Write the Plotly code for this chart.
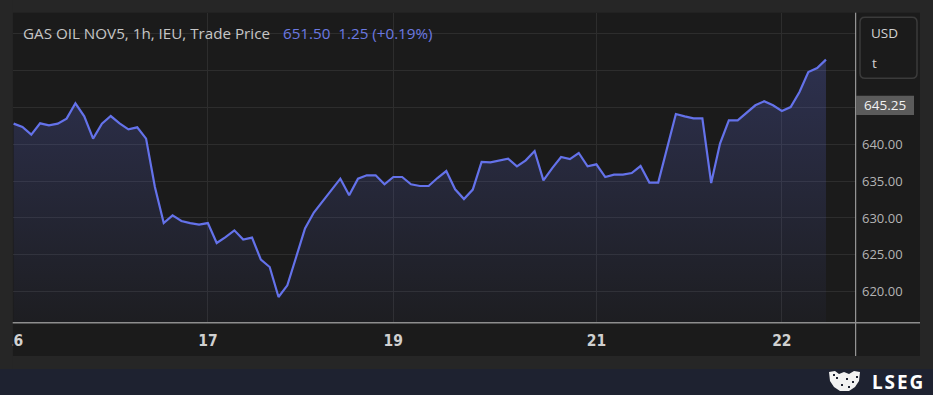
import plotly.graph_objects as go

# ---------------- data ----------------
price = [
    642.81, 642.35, 641.32, 642.85, 642.58, 642.81, 643.49, 645.57, 643.80, 640.77,
    642.81, 643.84, 642.85, 642.04, 642.31, 640.77, 634.20, 629.31, 630.36, 629.59,
    629.31, 629.10, 629.31, 626.60, 627.41, 628.32, 627.06, 627.33, 624.34, 623.34,
    619.27, 620.86, 624.70, 628.59, 630.74, 632.30, 633.85, 635.34, 633.08, 635.34,
    635.79, 635.79, 634.57, 635.56, 635.56, 634.57, 634.34, 634.34, 635.42, 636.37,
    633.89, 632.57, 633.85, 637.60, 637.56, 637.83, 638.06, 637.01, 637.83, 639.09,
    635.11, 636.78, 638.28, 638.00, 638.82, 637.01, 637.28, 635.56, 635.89, 635.89,
    636.10, 637.05, 634.80, 634.80, 639.50, 644.11, 643.80, 643.53, 643.53, 634.75,
    640.10, 643.26, 643.26, 644.30, 645.30, 645.84, 645.30, 644.52, 645.06, 647.10,
    649.82, 650.36, 651.50,
]
hour_index = list(range(len(price)))

day_tick_index = [0, 22, 43, 66, 87]
day_tick_labels = ["16", "17", "19", "21", "22"]

price_ticks = [620, 625, 630, 635, 640, 645, 650, 655]
labelled_price_ticks = [620, 625, 630, 635, 640]   # the others sit under the boxes

title_text = "GAS OIL NOV5, 1h, IEU, Trade Price"
quote_text = "651.50&nbsp;&nbsp;1.25 (+0.19%)"
marker_label = "645.25"
unit_top = "USD"
unit_bottom = "t"
brand = "LSEG"

# ---------------- layout helpers ----------------
W, H = 933, 395
L, R, T, B = 13, 77, 13, 72
PW, PH = W - L - R, H - T - B


def px(x):
    return (x - L) / PW


def py(y):
    return (H - B - y) / PH


Y_LO, Y_HI = 615.74, 657.83
X_LO, X_HI = -0.07, 95.4

LINE = "#6472ea"
PANEL = "#1b1b1b"
OUTER = "#262626"
GRID = "#2d2d2d"


def rounded_rect(x0, y0, x1, y1, r):
    rx, ry = r / PW, r / PH
    X0, X1 = px(x0), px(x1)
    Y0, Y1 = py(y0), py(y1)  # Y0 top (larger), Y1 bottom
    return (
        f"M {X0+rx},{Y0} L {X1-rx},{Y0} Q {X1},{Y0} {X1},{Y0-ry} "
        f"L {X1},{Y1+ry} Q {X1},{Y1} {X1-rx},{Y1} L {X0+rx},{Y1} "
        f"Q {X0},{Y1} {X0},{Y1+ry} L {X0},{Y0-ry} Q {X0},{Y0} {X0+rx},{Y0} Z"
    )


fig = go.Figure()
fig.add_trace(
    go.Scatter(
        x=hour_index,
        y=price,
        mode="lines",
        line=dict(color=LINE, width=2.2),
        fill="tozeroy",
        fillgradient=dict(
            type="vertical",
            colorscale=[[0, "rgba(100,114,234,0.03)"], [1, "rgba(100,114,234,0.25)"]],
            start=Y_LO,
            stop=max(price),
        ),
        hoverinfo="skip",
        showlegend=False,
    )
)

shapes = [
    # inner panel
    dict(type="rect", xref="paper", yref="paper", layer="below",
         x0=px(12.7), x1=px(920), y0=py(12.7), y1=py(356),
         fillcolor=PANEL, line=dict(width=0)),
    # bottom navy band
    dict(type="rect", xref="paper", yref="paper", layer="above",
         x0=px(0), x1=px(W), y0=py(369), y1=py(395),
         fillcolor="#1e2230", line=dict(width=0)),
    # left outer frame (clips the first day label)
    dict(type="rect", xref="paper", yref="paper", layer="above",
         x0=px(0), x1=px(12.7), y0=py(0), y1=py(369),
         fillcolor=OUTER, line=dict(width=0)),
    # vertical separator
    dict(type="line", xref="paper", yref="paper", layer="above",
         x0=px(855.7), x1=px(855.7), y0=py(12.7), y1=py(356),
         line=dict(color="#b0b0b0", width=1)),
    # horizontal axis line
    dict(type="line", xref="paper", yref="paper", layer="above",
         x0=px(12.7), x1=px(920), y0=py(322.7), y1=py(322.7),
         line=dict(color="#8e8e8e", width=1.6)),
    # unit box
    dict(type="path", xref="paper", yref="paper", layer="above",
         path=rounded_rect(860, 17.3, 917, 78.3, 5),
         fillcolor=PANEL, line=dict(color="#3b3b3b", width=1.5)),
    # price marker box
    dict(type="rect", xref="paper", yref="paper", layer="above",
         x0=px(856), x1=px(914), y0=py(95.7), y1=py(115),
         fillcolor="#5b5b5b", line=dict(width=0)),
    # lion emblem (approximation)
    dict(type="path", xref="paper", yref="paper", layer="above",
         path=(f"M {px(829)},{py(372)} L {px(835)},{py(371)} L {px(839)},{py(374)} "
               f"L {px(844)},{py(372)} L {px(849)},{py(374)} L {px(854)},{py(371)} "
               f"L {px(860)},{py(372)} L {px(859)},{py(381)} L {px(855)},{py(387)} "
               f"L {px(849)},{py(391)} L {px(840)},{py(391)} L {px(834)},{py(387)} "
               f"L {px(830)},{py(381)} Z"),
         fillcolor="#f2f2f2", line=dict(width=0)),
]
# specks on the emblem
for sx, sy in [(836, 377), (846, 378), (852, 381), (841, 384), (848, 386), (833, 374), (856, 376)]:
    shapes.append(dict(type="rect", xref="paper", yref="paper", layer="above",
                       x0=px(sx), x1=px(sx + 2), y0=py(sy), y1=py(sy + 2),
                       fillcolor="#1e2230", line=dict(width=0)))

annotations = [
    dict(text=title_text, xref="paper", yref="paper", x=px(21), y=py(33),
         xanchor="left", yanchor="middle", showarrow=False,
         font=dict(family="Open Sans", size=15.2, color="#c6c6c6")),
    dict(text=quote_text, xref="paper", yref="paper", x=px(281), y=py(33),
         xanchor="left", yanchor="middle", showarrow=False,
         font=dict(family="Open Sans", size=15.2, color="#6b79e2")),
    dict(text=unit_top, xref="paper", yref="paper", x=px(869), y=py(33),
         xanchor="left", yanchor="middle", showarrow=False,
         font=dict(family="Open Sans", size=13.5, color="#d2d2d2")),
    dict(text=unit_bottom, xref="paper", yref="paper", x=px(870), y=py(63),
         xanchor="left", yanchor="middle", showarrow=False,
         font=dict(family="Open Sans", size=13.5, color="#d2d2d2")),
    dict(text=marker_label, xref="paper", yref="paper", x=px(885), y=py(105.5),
         xanchor="center", yanchor="middle", showarrow=False,
         font=dict(family="Open Sans", size=13.5, color="#f2f2f2")),
    dict(text="<b>" + "\u200a".join(brand) + "</b>", xref="paper", yref="paper",
         x=px(870), y=py(381.5),
         xanchor="left", yanchor="middle", showarrow=False,
         font=dict(family="Noto Sans", size=19, color="#ffffff")),
]

fig.update_layout(
    width=W, height=H,
    margin=dict(l=L, r=R, t=T, b=B, pad=0, autoexpand=False),
    paper_bgcolor=OUTER,
    plot_bgcolor=PANEL,
    shapes=shapes,
    annotations=annotations,
    showlegend=False,
    xaxis=dict(
        range=[X_LO, X_HI],
        tickvals=day_tick_index,
        ticktext=day_tick_labels,
        automargin=False,
        showgrid=True, gridcolor=GRID, gridwidth=1,
        zeroline=False, showline=False, ticks="",
        ticklabelstandoff=6,
        tickfont=dict(family="Liberation Sans Narrow, DejaVu Sans Condensed, sans-serif",
                      size=15.5, color="#d0d0d0", weight="bold"),
        fixedrange=True,
    ),
    yaxis=dict(
        side="right",
        range=[Y_LO, Y_HI],
        tickvals=price_ticks,
        ticktext=[f"{v:.2f}" if v in labelled_price_ticks else "" for v in price_ticks],
        automargin=False,
        showgrid=True, gridcolor=GRID, gridwidth=1,
        zeroline=False, showline=False, ticks="",
        ticklabelstandoff=5,
        tickfont=dict(family="Open Sans", size=13, color="#b4b4b4"),
        fixedrange=True,
    ),
)

fig.write_html(
    "out.html",
    config={"displayModeBar": False},
    post_script="document.body.style.margin='0';document.body.style.background='#262626';",
)
